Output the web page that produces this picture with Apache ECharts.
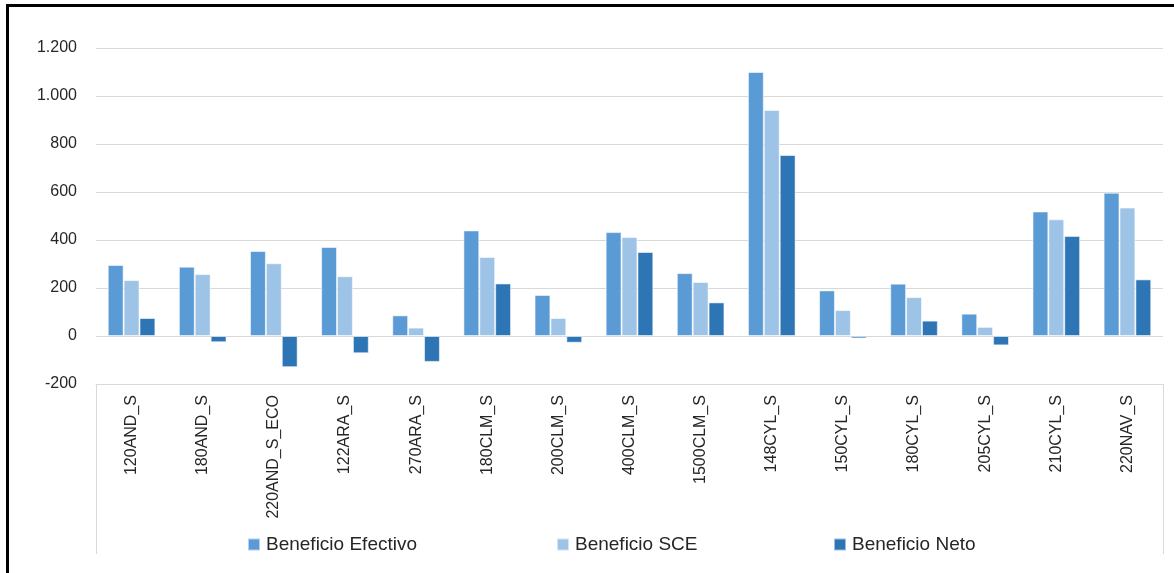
<!DOCTYPE html>
<html>
<head>
<meta charset="utf-8">
<script src="https://cdn.jsdelivr.net/npm/echarts@6/dist/echarts.min.js"></script>
<style>
html,body{margin:0;padding:0;background:#fff;}
#chart{width:1174px;height:573px;}
</style>
</head>
<body>
<div id="chart"></div>
<script>
const categories = ['120AND_S','180AND_S','220AND_S_ECO','122ARA_S','270ARA_S','180CLM_S','200CLM_S','400CLM_S','1500CLM_S','148CYL_S','150CYL_S','180CYL_S','205CYL_S','210CYL_S','220NAV_S'];
const beneficioEfectivo = [296, 289, 354, 371, 86, 440, 171, 433, 262, 1100, 190, 218, 93, 519, 597];
const beneficioSCE = [233, 258, 303, 249, 35, 329, 75, 412, 225, 942, 108, 162, 38, 486, 535];
const beneficioNeto = [75, -26, -130, -72, -108, 219, -28, 350, 140, 754, -10, 64, -39, 417, 236];
const yTicks = {min: -200, max: 1200, interval: 200};
const seriesNames = ['Beneficio Efectivo', 'Beneficio SCE', 'Beneficio Neto'];
const colors = ['#5B9BD5', '#9DC3E6', '#2E75B6'];

const chart = echarts.init(document.getElementById('chart'), null, {renderer: 'canvas'});
const fontFam = '"Liberation Sans", Arial, sans-serif';
const gridLeft = 96, gridRight = 11, gridTop = 48, gridBottom = 189;
const W = 1174, H = 573;

function fmt(v){
  const s = Math.abs(v).toString().replace(/\B(?=(\d{3})+(?!\d))/g, '.');
  return (v < 0 ? '-' : '') + s;
}

const dataArr = [beneficioEfectivo, beneficioSCE, beneficioNeto];
const legendLefts = [247, 556, 833];

chart.setOption({
  animation: false,
  backgroundColor: '#fff',
  textStyle: {fontFamily: fontFam},
  grid: {left: gridLeft, right: gridRight, top: gridTop, bottom: gridBottom},
  legend: seriesNames.map((n, i) => ({
    data: [n],
    left: legendLefts[i],
    top: 535,
    padding: 0,
    icon: 'rect',
    itemWidth: 12,
    itemHeight: 12,
    itemGap: 6,
    textStyle: {fontSize: 19, color: '#262626', fontFamily: fontFam, padding: [0, 0, 0, 1]}
  })),
  xAxis: {
    type: 'category',
    data: categories,
    position: 'bottom',
    axisLine: {onZero: false, show: true, lineStyle: {color: '#d9d9d9', width: 1}},
    axisTick: {show: false},
    axisLabel: {rotate: 90, margin: 11, fontSize: 16, color: '#262626', fontFamily: fontFam, interval: 0}
  },
  yAxis: {
    type: 'value',
    min: yTicks.min,
    max: yTicks.max,
    interval: yTicks.interval,
    axisLine: {show: false},
    axisTick: {show: false},
    splitLine: {show: true, lineStyle: {color: '#d9d9d9', width: 1}},
    axisLabel: {margin: 19, fontSize: 16, color: '#262626', fontFamily: fontFam, formatter: fmt}
  },
  series: seriesNames.map((n, i) => ({
    name: n,
    type: 'bar',
    data: dataArr[i],
    barGap: '0%',
    barCategoryGap: '33%',
    itemStyle: {color: colors[i], borderColor: 'rgba(255,255,255,0.55)', borderWidth: 1}
  })),
  graphic: [
    {type: 'line', shape: {x1: 6, y1: 5.5, x2: W, y2: 5.5}, style: {stroke: '#000', lineWidth: 3}},
    {type: 'line', shape: {x1: 7.5, y1: 4, x2: 7.5, y2: H}, style: {stroke: '#000', lineWidth: 3}},
    {type: 'line', shape: {x1: gridLeft + 0.5, y1: H - gridBottom, x2: gridLeft + 0.5, y2: 554}, style: {stroke: '#d9d9d9', lineWidth: 1}},
    {type: 'line', shape: {x1: W - gridRight + 0.5, y1: H - gridBottom, x2: W - gridRight + 0.5, y2: 554}, style: {stroke: '#d9d9d9', lineWidth: 1}}
  ]
});
</script>
</body>
</html>
